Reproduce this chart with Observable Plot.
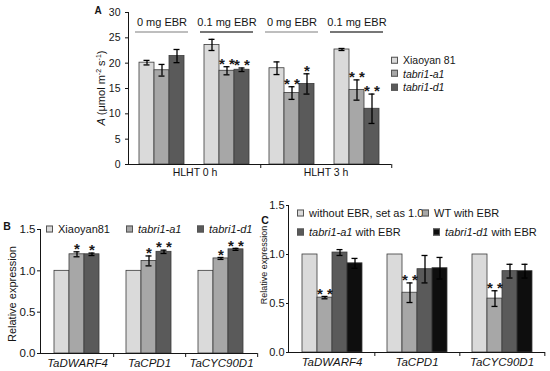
<!DOCTYPE html>
<html><head><meta charset="utf-8">
<script src="https://cdn.jsdelivr.net/npm/d3@7"></script>
<script src="https://cdn.jsdelivr.net/npm/@observablehq/plot@0.6"></script>
<style>
body{margin:0;background:#fff;}
#wrap{position:relative;width:550px;height:371px;overflow:hidden;font-family:"Liberation Sans",Arial,sans-serif;color:#151515;background:#fff;}
.holder{position:absolute;}
.holder svg{display:block;}
.lbl{position:absolute;white-space:nowrap;line-height:1;transform:translate(-50%,-50%);}
.rot{transform:translate(-50%,-50%) rotate(-90deg);}
.leg{position:absolute;display:flex;align-items:center;white-space:nowrap;line-height:1;transform:translateY(-50%);}
.sw{display:inline-block;width:5px;height:5px;border:1px solid #555;margin-right:5px;flex:none;}
sup{font-size:7px;vertical-align:4px;line-height:0;}
</style></head><body><div id="wrap"></div>
<script>
// ---------- data ----------
const hlhtTimes = ["HLHT 0 h", "HLHT 3 h"];
const ebrDoses = ["0 mg EBR", "0.1 mg EBR"];
const genotypesA = ["Xiaoyan 81", "tabri1-a1", "tabri1-d1"];
const photoMean = [[20.1, 18.6, 21.4], [23.6, 18.5, 18.7], [19.0, 14.1, 15.9], [22.7, 14.7, 11.0]];
const photoErr  = [[0.45, 1.15, 1.3], [1.1, 0.8, 0.35], [1.25, 1.25, 2.0], [0.2, 2.0, 2.9]];
const photoSig  = [["", "", ""], ["", "**", "**"], ["", "**", "*"], ["", "**", "**"]];

const genes = ["TaDWARF4", "TaCPD1", "TaCYC90D1"];
const genotypesB = ["Xiaoyan81", "tabri1-a1", "tabri1-d1"];
const exprMeanB = [[1, 1.2, 1.2], [1, 1.12, 1.23], [1, 1.15, 1.26]];
const exprErrB  = [[0, 0.03, 0.015], [0, 0.06, 0.02], [0, 0.012, 0.012]];
const exprSigB  = [["", "*", "*"], ["", "*", "**"], ["", "*", "**"]];

const treatmentsC = ["without EBR, set as 1.0", "WT with EBR", "tabri1-a1 with EBR", "tabri1-d1 with EBR"];
const exprMeanC = [[1, 0.56, 1.02, 0.91], [1, 0.61, 0.85, 0.86], [1, 0.55, 0.83, 0.83]];
const exprErrC  = [[0, 0.012, 0.03, 0.05], [0, 0.1, 0.14, 0.11], [0, 0.08, 0.07, 0.07]];
const exprSigC  = [["", "**", "", ""], ["", "**", "", ""], ["", "**", "", ""]];
const exprTickLabels = ["0.0", "0.5", "1.0", "1.5"];

// ---------- styles ----------
const FONT = '"Liberation Sans", Arial, sans-serif';
const colorsA = ["#dadada", "#a7a7a7", "#5a5a5a"];
const colorsC = ["#dadada", "#a7a7a7", "#5a5a5a", "#0e0e0e"];
const wrap = document.getElementById("wrap");
let zi = 1;

function place(el, left, top) {
  const d = document.createElement("div");
  d.className = "holder";
  d.style.left = left + "px"; d.style.top = top + "px"; d.style.zIndex = zi++;
  d.appendChild(el); wrap.appendChild(d);
  return el;
}
function html(h, cls, left, top, extra = "") {
  const d = document.createElement("div");
  d.className = cls; d.style.cssText = `left:${left}px;top:${top}px;z-index:50;${extra}`;
  d.innerHTML = h; wrap.appendChild(d);
}
const ital = s => "<span>" + s.replace(/(tabri1-[ad]1)/, "<i>$1</i>") + "</span>";

function buildRows(groups, keys, mean, err, sig) {
  return groups.flatMap((grp, i) => keys.map((g, j) => ({grp, g, v: mean[i][j], e: err[i][j], s: sig[i][j]})));
}

function barsPlot({rows, fxSpec, keys, colors, yDomain, size, m, extra = []}) {
  const withErr = rows.filter(d => d.e > 0);
  return Plot.plot({
    width: size[0], height: size[1],
    marginTop: m[0], marginRight: m[1], marginBottom: m[2], marginLeft: m[3],
    style: {background: "transparent", fontFamily: FONT, fontSize: "11px", color: "#151515", overflow: "visible"},
    fx: {...fxSpec, axis: null},
    x: {domain: keys, paddingInner: 0, paddingOuter: 0, axis: null},
    y: {domain: yDomain, axis: null},
    color: {domain: keys, range: colors},
    marks: [
      Plot.barY(rows, {fx: "grp", x: "g", y: "v", fill: "g", stroke: "#3a3a3a", strokeWidth: 0.8}),
      Plot.ruleX(withErr, {fx: "grp", x: "g", y1: d => d.v - d.e, y2: d => d.v + d.e, stroke: "#000", strokeWidth: 1.3}),
      Plot.tickY(withErr, {fx: "grp", x: "g", y: d => d.v + d.e, insetLeft: 4.5, insetRight: 4.5, stroke: "#000", strokeWidth: 1.3}),
      Plot.tickY(withErr, {fx: "grp", x: "g", y: d => d.v - d.e, insetLeft: 4.5, insetRight: 4.5, stroke: "#000", strokeWidth: 1.3}),
      Plot.text(rows.filter(d => d.s), {fx: "grp", x: "g", y: d => d.v + d.e, text: d => d.s.split("").join(" "),
                                        fontSize: 15, fontWeight: "bold", fill: "#1a1a1a", dy: -2.5}),
      ...extra
    ]
  });
}

function axesPlot({cats, range, yDomain, size, m, labelDy, fontSize, italic}) {
  const xs = Plot.scale({x: {type: "band", domain: cats, range, padding: 0}});
  const step = xs.step ?? xs.bandwidth ?? (range[1] - range[0]) / cats.length;
  const pxPerUnit = (size[1] - m[2] - m[0]) / (yDomain[1] - yDomain[0]);
  return Plot.plot({
    width: size[0], height: size[1],
    marginTop: m[0], marginRight: m[1], marginBottom: m[2], marginLeft: m[3],
    style: {background: "transparent", fontFamily: FONT, fontSize: fontSize + "px", color: "#151515", overflow: "visible"},
    x: {type: "band", domain: cats, range, padding: 0, axis: null},
    y: {domain: yDomain, axis: null},
    marks: [
      Plot.ruleY([yDomain[0]], {stroke: "#151515"}),
      Plot.ruleX(cats, {x: d => d, dx: step / 2, y1: yDomain[0], y2: yDomain[0] - 4 / pxPerUnit, stroke: "#151515"}),
      Plot.text(cats, {x: d => d, text: d => d, frameAnchor: "bottom", lineAnchor: "top", dy: labelDy,
                       fontSize: fontSize, fontStyle: italic ? "italic" : "normal"})
    ]
  });
}

function yAxisPlot({yDomain, yTicks, yFmt, tickSize, tickPadding, tickFont, height, m, width, textLabels}) {
  const marks = [Plot.ruleY([yDomain[0]], {stroke: "#151515"})];
  if (textLabels) marks.push(Plot.text(textLabels, {y: d => +d, text: d => d, frameAnchor: "right", textAnchor: "end",
                                                    dx: -(tickSize + tickPadding), fontSize: tickFont}));
  return Plot.plot({
    width, height, marginTop: m[0], marginRight: 0, marginBottom: m[2], marginLeft: width,
    style: {background: "transparent", fontFamily: FONT, fontSize: tickFont + "px", color: "#151515", overflow: "visible"},
    y: {domain: yDomain, ticks: yTicks, tickFormat: textLabels ? () => "" : yFmt, tickSize, tickPadding, line: true, label: null},
    marks
  });
}

// ---------- Panel A ----------
const groupInfo = hlhtTimes.flatMap(h => ebrDoses.map(dose => ({key: `${h} / ${dose}`, dose})));
const rowsA = buildRows(groupInfo.map(d => d.key), genotypesA, photoMean, photoErr, photoSig);
const sizeA = [550, 185], mA = [12, 159, 21, 128];
const yDomA = [0, 30];
place(barsPlot({
  rows: rowsA,
  fxSpec: {domain: groupInfo.map(d => d.key), range: [128, 391], paddingInner: 0.27, paddingOuter: 0.14},
  keys: genotypesA, colors: colorsA, yDomain: yDomA, size: sizeA, m: mA,
  extra: [
    Plot.text(groupInfo, {fx: "key", text: "dose", frameAnchor: "top", dy: 6, fontSize: 11}),
    Plot.ruleY(groupInfo.filter(d => d.dose === ebrDoses[0]), {fx: "key", y: () => yDomA[1], dy: 19.5, insetLeft: -3, insetRight: -3, stroke: "#a9a9a9", strokeWidth: 1.4}),
    Plot.ruleY(groupInfo.filter(d => d.dose === ebrDoses[1]), {fx: "key", y: () => yDomA[1], dy: 19.5, insetLeft: -3, insetRight: -3, stroke: "#4a4a4a", strokeWidth: 1.4})
  ]
}), 0, 0);
place(axesPlot({cats: hlhtTimes, range: [128, 391], yDomain: yDomA, size: sizeA, m: mA, labelDy: 4, fontSize: 10.5, italic: false}), 0, 0);
place(yAxisPlot({yDomain: yDomA, yTicks: 6, yFmt: "d", tickSize: 3, tickPadding: 5, tickFont: 10.5, height: 185, m: mA, width: 128}), 0, 0);

// ---------- Panel B ----------
const rowsB = buildRows(genes, genotypesB, exprMeanB, exprErrB, exprSigB);
const sizeB = [259, 171], mB = [29, 2, 18, 40];
place(barsPlot({
  rows: rowsB,
  fxSpec: {domain: genes, range: [40, 257], paddingInner: 0.378, paddingOuter: 0.189},
  keys: genotypesB, colors: colorsA, yDomain: [0, 1.5], size: sizeB, m: mB
}), 0, 200);
place(axesPlot({cats: genes, range: [40, 257], yDomain: [0, 1.5], size: sizeB, m: mB, labelDy: 5, fontSize: 11.5, italic: true}), 0, 200);
place(yAxisPlot({yDomain: [0, 1.5], yTicks: 3, yFmt: ".1f", tickSize: 3, tickPadding: 2, tickFont: 11.5, height: 171, m: mB, width: 40}), 0, 200);

// ---------- Panel C ----------
const rowsC = buildRows(genes, treatmentsC, exprMeanC, exprErrC, exprSigC);
const sizeC = [290, 171], mC = [5, 5, 19, 28];
place(barsPlot({
  rows: rowsC,
  fxSpec: {domain: genes, range: [28, 285], paddingInner: 0.279, paddingOuter: 0.14},
  keys: treatmentsC, colors: colorsC, yDomain: [0, 1.5], size: sizeC, m: mC
}), 260, 200);
place(axesPlot({cats: genes, range: [28, 285], yDomain: [0, 1.5], size: sizeC, m: mC, labelDy: 5.5, fontSize: 11.5, italic: true}), 260, 200);
place(yAxisPlot({yDomain: [0, 1.5], yTicks: 3, yFmt: ".1f", tickSize: 2, tickPadding: 2, tickFont: 11, height: 171, m: mC, width: 28,
  textLabels: exprTickLabels}), 260, 200);

// ---------- HTML titles, axis titles, legends ----------
html("A", "lbl", 98, 11, "font-weight:bold;font-size:10px;");
html("B", "lbl", 7, 226, "font-weight:bold;font-size:10.5px;");
html("C", "lbl", 265, 220, "font-weight:bold;font-size:10.5px;");
html('<i>A</i> (μmol m<sup>-2</sup> s<sup>-1</sup>)', "lbl rot", 101, 88, "font-size:11px;");
html("Relative expression", "lbl rot", 12, 294, "font-size:11px;");
html("Relative expression", "lbl rot", 264, 265, "font-size:9px;");

const legA = [[391, 60], [391, 73.5], [391, 87]];
genotypesA.forEach((g, i) => html(`<span class="sw" style="background:${colorsA[i]}"></span>${ital(g)}`, "leg", legA[i][0], legA[i][1], "font-size:10.5px;"));
const legB = [[46, 229], [126, 229], [197, 229]];
genotypesB.forEach((g, i) => html(`<span class="sw" style="background:${colorsA[i]}"></span>${ital(g)}`, "leg", legB[i][0], legB[i][1], "font-size:11px;"));
const legC = [[297, 213], [422, 213], [297, 232], [433, 232]];
treatmentsC.forEach((g, i) => html(`<span class="sw" style="background:${colorsC[i]}"></span>${ital(g)}`, "leg", legC[i][0], legC[i][1], "font-size:11px;"));
</script></body></html>
